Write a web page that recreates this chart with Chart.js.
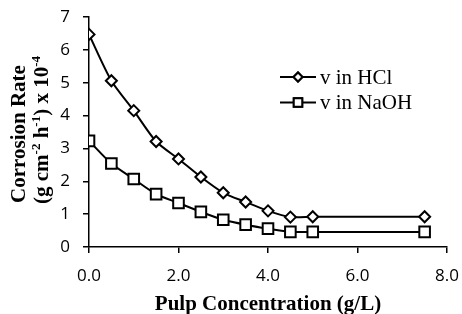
<!DOCTYPE html>
<html>
<head>
<meta charset="utf-8">
<script src="https://cdn.jsdelivr.net/npm/chart.js@4"></script>
<style>
  html, body { margin: 0; padding: 0; background: #fff; }
  #wrap { width: 462px; height: 314px; }
</style>
</head>
<body>
<div id="wrap"><canvas id="rateChart" width="462" height="314"></canvas></div>
<script>
// pulp concentration (g/L) and corrosion rates (x 10^-4 g cm^-2 h^-1)
const concentrations = [0, 0.5, 1.0, 1.5, 2.0, 2.5, 3.0, 3.5, 4.0, 4.5, 5.0, 7.5];
const rateHCl = [6.47, 5.06, 4.15, 3.21, 2.68, 2.13, 1.65, 1.37, 1.10, 0.91, 0.92, 0.92];
const rateNaOH = [3.23, 2.54, 2.07, 1.61, 1.34, 1.07, 0.83, 0.68, 0.56, 0.46, 0.46, 0.46];
const seriesNames = ['v in HCl', 'v in NaOH'];
const xTicks = [0, 2, 4, 6, 8];
const yTicks = [0, 1, 2, 3, 4, 5, 6, 7];

const serif = '"Liberation Serif", "Times New Roman", serif';
const sans = '"Open Sans", "Liberation Sans", sans-serif';

const toPoints = (ys) => concentrations.map((x, i) => ({ x: x, y: ys[i] }));

// draws a run of text pieces, some of them superscript, centred on (0,0)
function drawRich(ctx, parts, size, weight) {
    const supSize = Math.round(size * 0.62);
    let total = 0;
    parts.forEach(p => {
        ctx.font = `${weight} ${p.sup ? supSize : size}px ${serif}`;
        p.w = ctx.measureText(p.t).width;
        total += p.w;
    });
    let x = -total / 2;
    parts.forEach(p => {
        ctx.font = `${weight} ${p.sup ? supSize : size}px ${serif}`;
        ctx.fillText(p.t, x, p.sup ? -size * 0.38 : 0);
        x += p.w;
    });
}

const titlesAndLegend = {
    id: 'titlesAndLegend',
    afterDraw(chart) {
        const ctx = chart.ctx;
        const area = chart.chartArea;
        ctx.save();
        ctx.fillStyle = '#000';
        ctx.textAlign = 'left';
        ctx.textBaseline = 'alphabetic';

        // x axis title
        ctx.save();
        ctx.translate((area.left + area.right) / 2, 310);
        drawRich(ctx, [{ t: 'Pulp Concentration (g/L)' }], 21, 'bold');
        ctx.restore();

        // y axis title, two lines
        const midY = (area.top + area.bottom) / 2;
        ctx.save();
        ctx.translate(25, midY + 2);
        ctx.rotate(-Math.PI / 2);
        drawRich(ctx, [{ t: 'Corrosion Rate' }], 21, 'bold');
        ctx.restore();
        ctx.save();
        ctx.translate(48, midY - 2);
        ctx.rotate(-Math.PI / 2);
        drawRich(ctx, [
            { t: '(g cm' }, { t: '-2', sup: true }, { t: ' h' }, { t: '-1', sup: true },
            { t: ') x 10' }, { t: '-4', sup: true }
        ], 21, 'bold');
        ctx.restore();

        // legend
        const rows = [77, 102.5];
        chart.data.datasets.forEach((ds, i) => {
            const y = rows[i];
            ctx.strokeStyle = '#000';
            ctx.lineWidth = 2;
            ctx.beginPath();
            ctx.moveTo(280, y);
            ctx.lineTo(316, y);
            ctx.stroke();
            ctx.fillStyle = '#fff';
            ctx.lineWidth = 2;
            Chart.helpers.drawPoint(ctx, {
                pointStyle: ds.pointStyle,
                radius: i === 0 ? 4.5 : 6,
                borderWidth: 2,
                rotation: 0
            }, 298, y);
            ctx.fill();
            ctx.stroke();
            ctx.fillStyle = '#000';
            ctx.font = `21px ${serif}`;
            ctx.textBaseline = 'middle';
            ctx.fillText(seriesNames[i], 320, y + 1);
        });
        ctx.restore();
    }
};

const baseSet = {
    borderColor: '#000',
    borderWidth: 2,
    pointBackgroundColor: '#fff',
    pointBorderColor: '#000',
    pointBorderWidth: 2,
    tension: 0.25,
    fill: false
};

new Chart(document.getElementById('rateChart'), {
    type: 'line',
    data: {
        datasets: [
            Object.assign({}, baseSet, {
                label: seriesNames[0],
                data: toPoints(rateHCl),
                pointStyle: 'rectRot',
                pointRadius: 5.5
            }),
            Object.assign({}, baseSet, {
                label: seriesNames[1],
                data: toPoints(rateNaOH),
                pointStyle: 'rect',
                pointRadius: 7.5
            })
        ]
    },
    options: {
        responsive: false,
        animation: false,
        layout: { padding: { top: 17, right: 15, left: 0, bottom: 0 } },
        plugins: {
            legend: { display: false },
            tooltip: { enabled: false }
        },
        scales: {
            x: {
                type: 'linear',
                min: 0,
                max: 8,
                afterFit: (scale) => {
                    scale.height = 67;
                    scale.paddingLeft = 0;
                    scale.paddingRight = 0;
                },
                afterBuildTicks: (scale) => { scale.ticks = xTicks.map(v => ({ value: v })); },
                border: { color: '#000', width: 1.5 },
                grid: { drawOnChartArea: false, drawTicks: true, tickLength: 6, color: '#000', lineWidth: 1.5 },
                ticks: {
                    color: '#000',
                    padding: 13,
                    maxRotation: 0,
                    font: { family: sans, size: 17 },
                    callback: (v) => Number(v).toFixed(1)
                }
            },
            y: {
                min: 0,
                max: 7,
                afterFit: (scale) => {
                    scale.width = 89;
                    scale.paddingTop = 0;
                    scale.paddingBottom = 0;
                },
                afterBuildTicks: (scale) => { scale.ticks = yTicks.map(v => ({ value: v })); },
                border: { color: '#000', width: 1.5 },
                grid: { drawOnChartArea: false, drawTicks: true, tickLength: 6, color: '#000', lineWidth: 1.5 },
                ticks: {
                    color: '#000',
                    padding: 13,
                    font: { family: sans, size: 17 },
                    callback: (v) => String(v)
                }
            }
        }
    },
    plugins: [titlesAndLegend]
});
</script>
</body>
</html>
